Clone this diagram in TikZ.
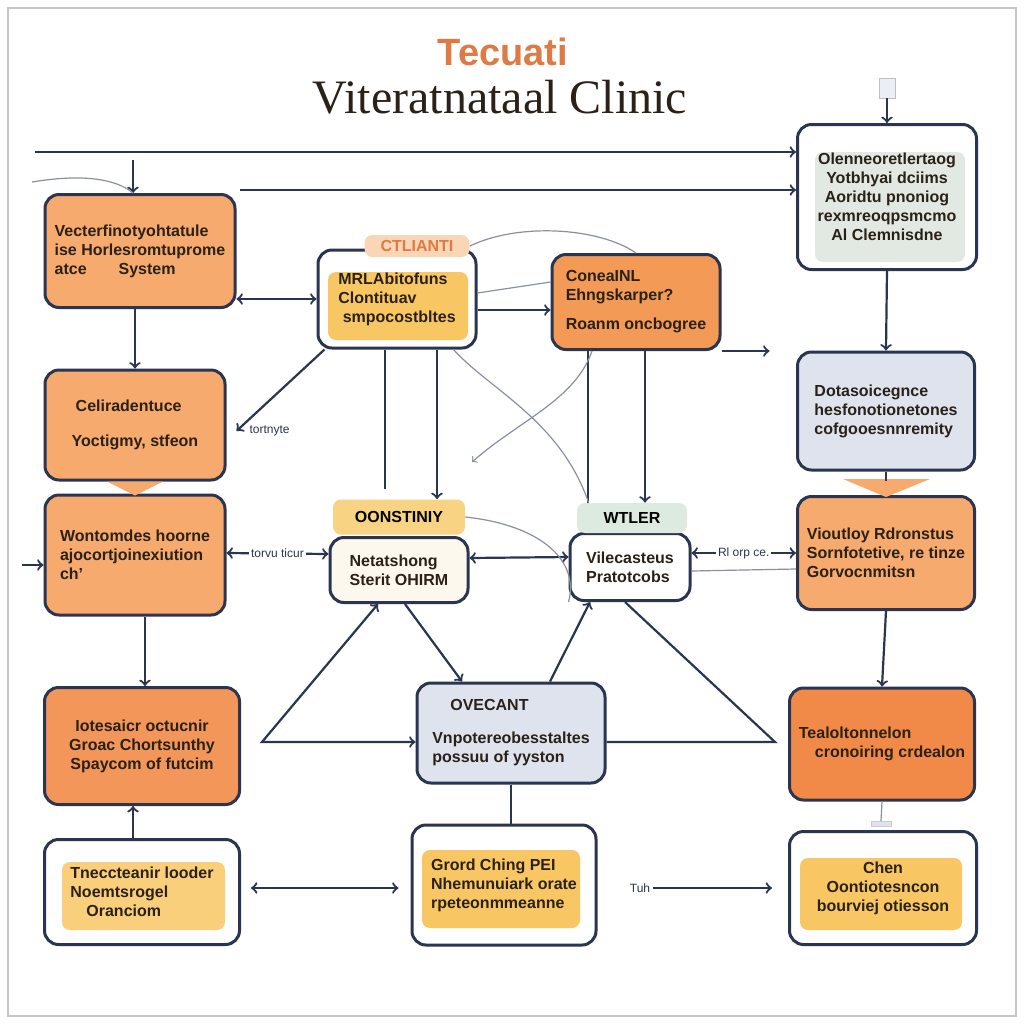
\documentclass[tikz,border=0pt]{standalone}
\usepackage{fontspec}
\setmainfont{Liberation Sans}
\newfontfamily\titlefont{Liberation Serif}
\usetikzlibrary{calc}
\definecolor{navy}{HTML}{2B3550}
\definecolor{ink}{HTML}{2A2118}
\definecolor{peach}{HTML}{F6AA6E}
\definecolor{tangerine}{HTML}{F39A56}
\definecolor{ember}{HTML}{F18A48}
\definecolor{honey}{HTML}{F8C764}
\definecolor{apricot}{HTML}{F9D6B6}
\definecolor{sand}{HTML}{F8D384}
\definecolor{mint}{HTML}{DCEADF}
\definecolor{mist}{HTML}{DEE3EE}
\definecolor{sage}{HTML}{E2E9E3}
\definecolor{cream}{HTML}{FDF8EE}
\definecolor{rust}{HTML}{DE7A45}
\newcommand\boxfont{\fontsize{8}{9.5}\selectfont\bfseries}

\begin{document}
\begin{tikzpicture}
    [x=0.5pt, y=-0.5pt,
     box/.style={draw=navy, line width=1.5pt, rounded corners=7pt, align=left, font=\boxfont, text=ink},
     tab/.style={rounded corners=4pt, inner sep=0pt, font=\boxfont},
     lbl/.style={font=\fontsize{6}{7}\selectfont, inner sep=1pt},
     thinline/.style={draw=navy!55, line width=0.6pt}]
    \useasboundingbox (0,0) rectangle (1024,1024);
    \fill[white] (0,0) rectangle (1024,1024);
    \draw[gray!45, line width=0.6pt] (8,8) rectangle (1016,1016);

    \node[text=rust, font=\fontsize{19}{19}\selectfont\bfseries] (brand) at (503,52) {Tecuati};
    \node[text=ink, font=\titlefont\fontsize{24}{24}\selectfont] (title) at (500,97) {Viteratnataal Clinic};

    % inner fills
    \fill[honey, rounded corners=4pt] (328,272) rectangle (468,340);
    \fill[honey!85, rounded corners=4pt] (62,862) rectangle (225,930);
    \fill[honey, rounded corners=4pt] (422,850) rectangle (580,928);
    \fill[sage, rounded corners=4pt] (815,152) rectangle (965,262);
    \fill[honey, rounded corners=4pt] (800,858) rectangle (962,930);

    % left column
    \node[box, minimum width=95pt, minimum height=56.5pt, fill=peach] (vet) at (140,251)
        {Vecterfinotyohtatule\\ise Horlesromtuprome\\atce\qquad System};
    \node[box, minimum width=90pt, minimum height=55pt, fill=peach] (cell) at (135,425)
        {\hspace*{2pt}Celiradentuce\\[8pt]Yoctigmy, stfeon};
    \node[box, minimum width=90pt, minimum height=60pt, fill=peach] (wont) at (135,555)
        {Wontomdes hoorne\\ajocortjoinexiution\\ch'};
    \node[box, minimum width=97.5pt, minimum height=58.5pt, fill=ember!90, align=center] (iote) at (142,746)
        {Iotesaicr octucnir\\Groac Chortsunthy\\Spaycom of futcim};
    \node[box, minimum width=97.5pt, minimum height=52.5pt] (tnec) at (142,892)
        {Tneccteanir looder\\Noemtsrogel\\\quad Oranciom};
    \fill[peach] ($(cell.south)+(-28,0)$) -- ($(cell.south)+(28,0)$) -- ($(wont.north)+(0,2)$) -- cycle;

    % middle
    \node[box, minimum width=79pt, minimum height=49pt] (mrl) at (397,299)
        {MRLAbitofuns\\Clontituav\\\ smpocostbltes};
    \node[tab, fill=apricot, text=rust, minimum width=52.5pt, minimum height=11pt] (mrltab) at (417,246) {CTLIANTI};
    \node[box, minimum width=84pt, minimum height=47.5pt, fill=tangerine] (cone) at (636,302)
        {ConeaINL\\Ehngskarper?\\[5pt]Roanm oncbogree};
    \node[box, minimum width=69pt, minimum height=32.5pt, fill=cream] (oons) at (399,570)
        {Netatshong\\Sterit OHIRM};
    \node[tab, fill=sand, minimum width=66pt, minimum height=17.5pt] (oonstab) at (399,517) {OONSTINIY};
    \node[box, minimum width=60pt, minimum height=33.5pt, fill=white] (wtler) at (630,567)
        {Vilecasteus\\Pratotcobs};
    \node[tab, fill=mint, minimum width=55pt, minimum height=15pt] (wtlertab) at (632,518) {WTLER};
    \node[box, minimum width=94pt, minimum height=50pt, fill=mist] (ovec) at (511,733)
        {\hspace*{9pt}OVECANT\\[7pt]Vnpotereobesstaltes\\possuu of yyston};
    \node[box, minimum width=92pt, minimum height=60pt] (grord) at (504,885)
        {Grord Ching PEI\\Nhemunuiark orate\\rpeteonmmeanne};

    % right column
    \node[box, minimum width=89.5pt, minimum height=72.5pt, align=center] (olen) at (887,197)
        {Olenneoretlertaog\\Yotbhyai dciims\\Aoridtu pnoniog\\rexmreoqpsmcmo\\Al Clemnisdne};
    \node[box, minimum width=88.5pt, minimum height=59pt, fill=mist] (dota) at (886,411)
        {Dotasoicegnce\\hesfonotionetones\\cofgooesnnremity};
    \node[box, minimum width=88.5pt, minimum height=56.5pt, fill=peach] (viou) at (886,553)
        {Vioutloy Rdronstus\\Sornfotetive, re tinze\\Gorvocnmitsn};
    \node[box, minimum width=92.5pt, minimum height=56pt, fill=ember] (teal) at (882,744)
        {Tealoltonnelon\\\quad cronoiring crdealon};
    \node[box, minimum width=93.5pt, minimum height=56.5pt, align=center] (chen) at (883,888)
        {Chen\\Oontiotesncon\\bourviej otiesson};
    \fill[peach] ($(viou.north)+(-43,-16)$) -- ($(viou.north)+(44,-16)$) -- ($(viou.north)+(0,2)$) -- cycle;
    \node[draw=gray!50, fill=mist!60, minimum width=8pt, minimum height=10pt, inner sep=0pt] (olenin) at (887,88) {};
    \node[fill=mist, draw=gray!40, minimum width=10pt, minimum height=2.5pt, inner sep=0pt] (chenbar) at (881,824) {};

    % connectors
    \begin{scope}[color=navy, line width=1.1pt]
        \coordinate (topin) at (35,152);
        \coordinate (vetout) at (240,190);
        \coordinate (vetin) at (133,160);
        \coordinate (vetcurve) at (32,182);
        \coordinate (crossend) at (472,462);
        \coordinate (wontin) at (22,565);
        \coordinate (ovecleft) at (262,742);
        \coordinate (ovecright) at (775,742);
        \draw[->] (topin) -- (topin -| olen.west);
        \draw[->] (vetout) -- (vetout -| olen.west);
        \draw[->] (vetin) -- (vetin |- vet.north);
        \draw[thinline] (vetcurve) .. controls (80,174) and (115,178) .. (vetin |- vet.north);
        \draw[->] (olenin) -- (olen.north);
        \draw[<->] (vet.east |- mrl.west) -- (mrl.west);
        \draw[->] (cell.north |- vet.south) -- (cell.north);
        \draw[->] ([xshift=4pt]mrl.south west) -- ([xshift=5pt,yshift=-3pt]cell.east);
        \node[lbl, anchor=west] (tortlbl) at ([xshift=10pt,yshift=-3pt]cell.east) {tortnyte};
        \draw[->] ([yshift=-5.5pt]mrl.east) -- ([yshift=-4pt]cone.west);
        \draw[thinline] ([yshift=3pt]mrl.east) -- ([yshift=10pt]cone.west);
        \draw[->] (cone.south east) -- ++(48,0) coordinate (conout);
        \draw[thinline] (mrltab.east) .. controls (520,222) and (600,228) .. (cone.north);
        \draw ([xshift=-6pt]mrl.south) -- ([xshift=-7pt,yshift=5pt]oonstab.north);
        \draw[->] ([xshift=20pt]mrl.south) -- ([xshift=19pt]oonstab.north);
        \draw ([xshift=-24pt]cone.south) -- ([xshift=-22pt]wtlertab.north);
        \draw[->] ([xshift=4.5pt]cone.south) -- ([xshift=6.5pt]wtlertab.north);
        \draw[thinline] ([xshift=-12pt]mrl.south east) .. controls (490,390) and (560,420) .. ([xshift=6pt]wtlertab.north west);
        \draw[thinline, ->] ([xshift=-22pt]cone.south) .. controls (575,400) and (520,420) .. (crossend);
        \draw[->] (wontin) -- (wontin -| wont.west);
        \draw[<->] ([yshift=1pt]wont.east) -- ([yshift=8pt]oons.west)
            node[midway, lbl, fill=white] (torvlbl) {torvu ticur};
        \draw[<->] ([yshift=6pt]oons.east) -- ([yshift=5pt]wtler.west);
        \draw[thinline] (oonstab.east) .. controls (540,525) and (580,560) .. (wtler.south west);
        \draw[<->] ([yshift=7pt]wtler.east) -- (viou.west)
            node[midway, lbl, fill=white] (rlbl) {Rl orp ce.};
        \draw[thinline] ([yshift=-2pt]wtler.east) -- ([yshift=-8pt]viou.west);
        \draw[<->] ([xshift=-10.5pt]oons.south) -- (ovecleft) -- (ovecleft -| ovec.west);
        \draw[->] ([xshift=3pt]oons.south) -- ([xshift=-24.5pt]ovec.north);
        \draw[<-] ([xshift=-20pt]wtler.south) -- ([xshift=19.5pt]ovec.north);
        \draw ([xshift=-2.5pt]wtler.south) -- (ovecright) -- (ovecright -| ovec.east);
        \draw (ovec.south) -- (ovec.south |- grord.north);
        \draw[->] (olen.south) -- (dota.north);
        \draw (dota.south) -- ([yshift=7pt]viou.north);
        \draw[->] (viou.south) -- (teal.north);
        \draw[thinline] (teal.south) -- (chenbar.north);
        \draw[->] ([xshift=5pt]wont.south) -- ([xshift=1.5pt]iote.north);
        \draw[->] ([xshift=-4.5pt]tnec.north) -- ([xshift=-4.5pt]iote.south);
        \draw[<->] ([xshift=5pt,yshift=2pt]tnec.east) -- ([xshift=-6pt,yshift=-1.5pt]grord.west);
        \node[lbl] (tuhlbl) at (640,888) {Tuh};
        \draw[->, shorten >=8pt] (tuhlbl.east) -- (tuhlbl.east -| chen.west);
    \end{scope}
\end{tikzpicture}
\end{document}
